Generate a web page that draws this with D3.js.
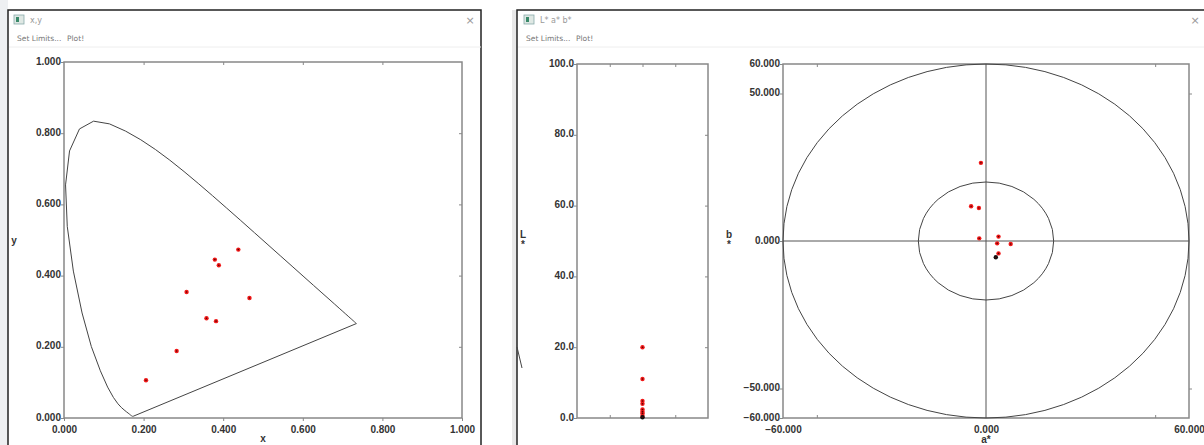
<!DOCTYPE html>
<html><head><meta charset="utf-8">
<script src="https://cdn.jsdelivr.net/npm/d3@7/dist/d3.min.js"></script>
<style>
body{margin:0;background:#fff;overflow:hidden}
text{font-family:"DejaVu Sans",sans-serif}
.tick{font-family:"Liberation Sans","DejaVu Sans",sans-serif;font-weight:bold;font-size:10px;fill:#333}
</style></head><body>
<svg id="c" width="1204" height="445"></svg>
<script>
// ---- data ----
const locusX = [0.1741,0.1740,0.1738,0.1736,0.1733,0.1730,0.1726,0.1721,0.1714,0.1703,0.1689,0.1669,0.1644,0.1611,0.1566,0.1510,0.1440,0.1355,0.1241,0.1096,0.0913,0.0687,0.0454,0.0235,0.0082,0.0039,0.0139,0.0389,0.0743,0.1142,0.1547,0.1929,0.2296,0.2658,0.3016,0.3373,0.3731,0.4087,0.4441,0.4788,0.5125,0.5448,0.5752,0.6029,0.6270,0.6482,0.6658,0.6801,0.6915,0.7006,0.7079,0.7140,0.7190,0.7230,0.7260,0.7283,0.7300,0.7311,0.7320,0.7334,0.7344,0.7347];
const locusY = [0.0050,0.0050,0.0049,0.0049,0.0048,0.0048,0.0048,0.0048,0.0051,0.0058,0.0069,0.0086,0.0109,0.0138,0.0177,0.0227,0.0297,0.0399,0.0578,0.0868,0.1327,0.2007,0.2950,0.4127,0.5384,0.6548,0.7502,0.8120,0.8338,0.8262,0.8059,0.7816,0.7543,0.7243,0.6923,0.6589,0.6245,0.5896,0.5547,0.5202,0.4866,0.4544,0.4242,0.3965,0.3725,0.3514,0.3340,0.3197,0.3083,0.2993,0.2920,0.2859,0.2809,0.2770,0.2740,0.2717,0.2700,0.2689,0.2680,0.2666,0.2656,0.2653];
const sampleX = [0.438,0.379,0.389,0.308,0.466,0.358,0.382,0.283,0.206];
const sampleY = [0.473,0.445,0.429,0.354,0.337,0.280,0.272,0.188,0.106];
const sampleL = [20.0,11.0,4.8,4.0,2.4,1.8,1.3,0.6];
const sampleA = [-1.5,-4.4,-2.1,-2.0,3.7,3.3,7.3,3.7];
const sampleB = [26.5,11.8,11.2,0.9,1.5,-0.8,-1.0,-4.2];
const refL = [0.2], refA = [2.9], refB = [-5.5];
const xyTicks = [0,0.2,0.4,0.6,0.8,1.0];
const lTicks = [0,20,40,60,80,100];
const bTicks = [-60,-50,0,50,60];
const aTicks = [-60,0,60];
const ringRadii = [60,20];

const svg = d3.select("#c");
const RED = "#f01818";

// ---- window chrome ----
function chrome(x0,x1,title,closeX,iconX){
  svg.append("rect").attr("x",x0).attr("y",10).attr("width",x1-x0).attr("height",445)
    .attr("fill","#fff").attr("stroke","#222").attr("stroke-width",1.5);
  svg.append("rect").attr("x",iconX).attr("y",15).attr("width",10).attr("height",9).attr("fill","#dfe8e4").attr("stroke","#8aa").attr("stroke-width",0.8);
  svg.append("rect").attr("x",iconX+2).attr("y",17).attr("width",3).attr("height",5).attr("fill","#3a8a6a");
  svg.append("text").attr("x",iconX+16).attr("y",23).attr("font-size",8).attr("fill","#999").text(title);
  svg.append("text").attr("x",closeX).attr("y",24).attr("font-size",11).attr("fill","#999").attr("text-anchor","middle").text("×");
  svg.append("text").attr("x",x0+9).attr("y",41).attr("font-size",7.5).attr("fill","#777").text("Set Limits...");
  svg.append("text").attr("x",x0+59).attr("y",41).attr("font-size",7.5).attr("fill","#777").text("Plot!");
  svg.append("line").attr("x1",x0+1).attr("x2",x1).attr("y1",47).attr("y2",47).attr("stroke","#eee");
}
svg.append("rect").attr("x",0).attr("y",0).attr("width",8).attr("height",445).attr("fill","#eef0f2");
svg.append("rect").attr("x",8).attr("y",78).attr("width",4).attr("height",14).attr("fill","#2a7ae2");
svg.append("rect").attr("x",512).attr("y",10).attr("width",5).attr("height",435).attr("fill","#e8e8e8");
chrome(8,481,"x,y",470,14);
chrome(517,1215,"L* a* b*",1195,524);
svg.append("line").attr("x1",517).attr("y1",347).attr("x2",522).attr("y2",368).attr("stroke","#444");

// ---- helpers ----
function frame(x0,x1,y0,y1){
  svg.append("rect").attr("x",x0).attr("y",y0).attr("width",x1-x0).attr("height",y1-y0)
    .attr("fill","none").attr("stroke","#888").attr("stroke-width",1.5);
}
function pts(g,xs,ys,sx,sy,color){
  g.selectAll(null).data(xs).enter().append("circle")
    .attr("cx",(d)=>sx(d)).attr("cy",(d,i)=>sy(ys[i])).attr("r",2.2).attr("fill",color);
  g.selectAll(null).data(xs).enter().append("circle")
    .attr("cx",(d)=>sx(d)).attr("cy",(d,i)=>sy(ys[i])).attr("r",0.8).attr("fill","#500");
}
function styleAxis(g,dy){
  g.select(".domain").remove();
  g.selectAll("line").attr("stroke","#888");
  g.selectAll("text").attr("class","tick").attr("font-size",null).attr("font-family",null).attr("fill",null);
  if(dy) g.selectAll("text").attr("dy",dy);
}

// ---- x,y chart ----
const X1 = d3.scaleLinear().domain([0,1]).range([64,462]);
const Y1 = d3.scaleLinear().domain([0,1]).range([418,62]);
frame(64,462,62,418);
const g1 = svg.append("g");
g1.append("g").attr("transform","translate(0,418)").call(d3.axisBottom(X1).tickValues(xyTicks).tickFormat(d3.format(".3f")).tickSize(3).tickPadding(5)).call(g=>styleAxis(g));
g1.append("g").attr("transform","translate(64,0)").call(d3.axisLeft(Y1).tickValues(xyTicks).tickFormat(d3.format(".3f")).tickSize(3).tickPadding(0)).call(g=>styleAxis(g,"0.2em"));
g1.append("g").attr("transform","translate(0,62)").call(d3.axisBottom(X1).tickValues(xyTicks.slice(1,5)).tickFormat("").tickSize(3)).call(g=>styleAxis(g));
g1.append("g").attr("transform","translate(462,0)").call(d3.axisLeft(Y1).tickValues(xyTicks.slice(1,5)).tickFormat("").tickSize(3)).call(g=>styleAxis(g));
const locus = locusX.map((x,i)=>[x,locusY[i]]);
g1.append("path").datum(locus).attr("d",d3.line().x(d=>X1(d[0])).y(d=>Y1(d[1])).curve(d3.curveLinearClosed))
  .attr("fill","none").attr("stroke","#444").attr("stroke-width",1).attr("stroke-linejoin","round");
pts(g1,sampleX,sampleY,X1,Y1,RED);
svg.append("text").attr("x",263).attr("y",442).attr("class","tick").attr("text-anchor","middle").text("x");
svg.append("text").attr("x",14).attr("y",244).attr("class","tick").attr("text-anchor","middle").text("y");

// ---- L chart ----
const XL = d3.scaleLinear().domain([0,4]).range([577,708]);
const YL = d3.scaleLinear().domain([0,100]).range([418,64]);
frame(577,708,64,418);
const g2 = svg.append("g");
g2.append("g").attr("transform","translate(577,0)").call(d3.axisLeft(YL).tickValues(lTicks).tickFormat(d3.format(".1f")).tickSize(3).tickPadding(0)).call(g=>styleAxis(g,"0.2em"));
g2.append("g").attr("transform","translate(708,0)").call(d3.axisLeft(YL).tickValues(lTicks.slice(1,5)).tickFormat("").tickSize(3)).call(g=>styleAxis(g));
g2.append("g").attr("transform","translate(0,64)").call(d3.axisBottom(XL).tickValues([1,2,3]).tickFormat("").tickSize(3)).call(g=>styleAxis(g));
g2.append("g").attr("transform","translate(0,418)").call(d3.axisTop(XL).tickValues([1,2,3]).tickFormat("").tickSize(3)).call(g=>styleAxis(g));
pts(g2,sampleL.map(()=>2),sampleL,XL,YL,RED);
pts(g2,refL.map(()=>2),refL,XL,YL,"#111");
svg.append("text").attr("x",523).attr("y",238).attr("class","tick").attr("text-anchor","middle").text("L");
svg.append("text").attr("x",523).attr("y",248).attr("class","tick").attr("text-anchor","middle").text("*");

// ---- a*b* chart ----
const XA = d3.scaleLinear().domain([-60,60]).range([783,1189]);
const YB = d3.scaleLinear().domain([-60,60]).range([418,64]);
frame(783,1189,64,418);
const g3 = svg.append("g");
g3.append("g").attr("transform","translate(783,0)").call(d3.axisLeft(YB).tickValues(bTicks).tickFormat(d3.format(".3f")).tickSize(3).tickPadding(0)).call(g=>styleAxis(g,"0.2em"));
g3.append("g").attr("transform","translate(0,418)").call(d3.axisBottom(XA).tickValues(aTicks).tickFormat(d3.format(".3f")).tickSize(0).tickPadding(8)).call(g=>styleAxis(g));
g3.append("g").attr("transform","translate(0,418)").call(d3.axisTop(XA).tickValues([-50,50]).tickFormat("").tickSize(3)).call(g=>styleAxis(g));
g3.append("g").attr("transform","translate(0,64)").call(d3.axisBottom(XA).tickValues([-50,50]).tickFormat("").tickSize(3)).call(g=>styleAxis(g));
g3.append("g").attr("transform","translate(1189,0)").call(d3.axisRight(YB).tickValues([-50,50]).tickFormat("").tickSize(3)).call(g=>styleAxis(g));
g3.append("line").attr("x1",XA(0)).attr("x2",XA(0)).attr("y1",YB(60)).attr("y2",YB(-60)).attr("stroke","#555");
g3.append("line").attr("x1",XA(-60)).attr("x2",XA(60)).attr("y1",YB(0)).attr("y2",YB(0)).attr("stroke","#555");
g3.selectAll(null).data(ringRadii).enter().append("ellipse")
  .attr("cx",XA(0)).attr("cy",YB(0)).attr("rx",d=>XA(d)-XA(0)).attr("ry",d=>YB(0)-YB(d))
  .attr("fill","none").attr("stroke","#444").attr("stroke-width",1);
pts(g3,sampleA,sampleB,XA,YB,RED);
pts(g3,refA,refB,XA,YB,"#111");
svg.append("text").attr("x",986).attr("y",443).attr("class","tick").attr("text-anchor","middle").text("a*");
svg.append("text").attr("x",729).attr("y",238).attr("class","tick").attr("text-anchor","middle").text("b");
svg.append("text").attr("x",729).attr("y",248).attr("class","tick").attr("text-anchor","middle").text("*");
</script>
</body></html>
